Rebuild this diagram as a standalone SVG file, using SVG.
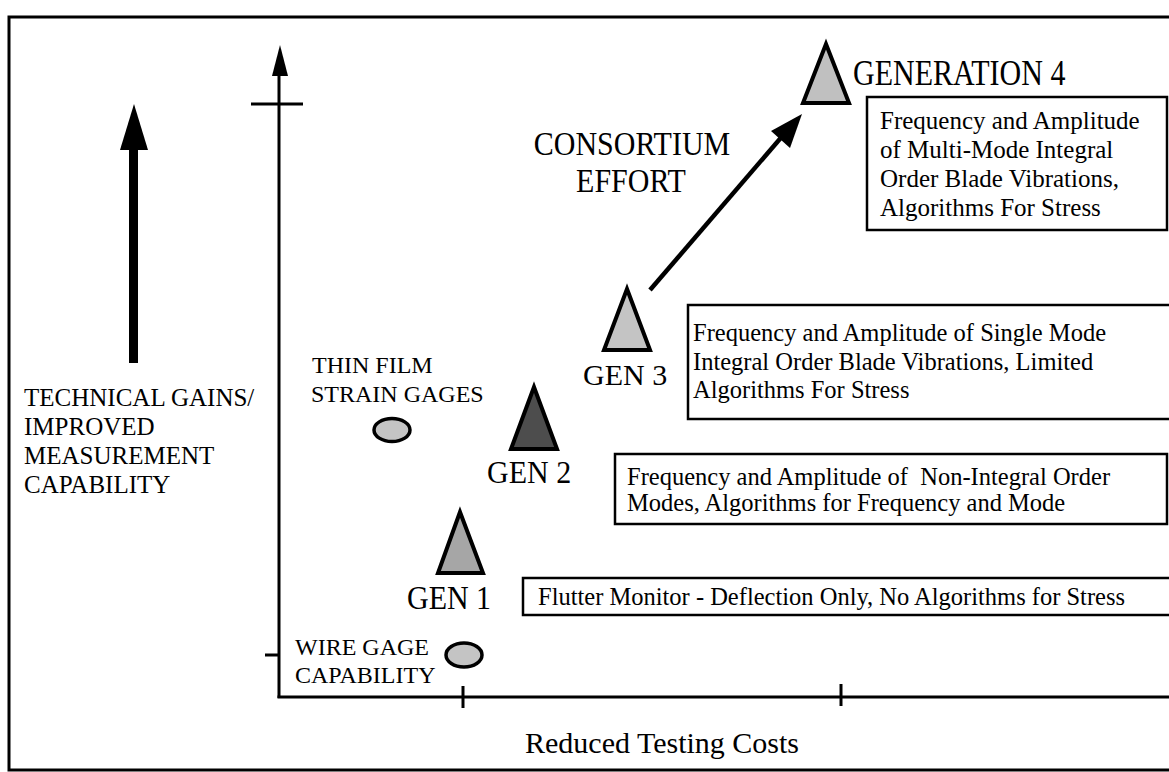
<svg xmlns="http://www.w3.org/2000/svg" width="1169" height="772" viewBox="0 0 1169 772">
<style>
text{font-family:"Liberation Serif","Times New Roman",serif;fill:#000}
.big{font-size:30px}
.mid{font-size:25px}
.box{font-size:24.5px}
.lbl{font-size:24px}
.frame{fill:none;stroke:#000;stroke-width:3}
.bx{fill:#fff;stroke:#000;stroke-width:2.5}
.ax{stroke:#000;stroke-width:3;fill:none}
.tri{stroke:#000;stroke-width:4;stroke-linejoin:miter}
.ell{stroke:#000;stroke-width:3.5;fill:#c4c4c4}
</style>
<rect x="0" y="0" width="1169" height="772" fill="#fff"/>
<rect class="frame" x="9" y="17" width="1175" height="753"/>

<g id="gains-arrow">
<rect x="129" y="148" width="9" height="215" fill="#000"/>
<polygon points="134,104 120,150 148,150" fill="#000"/>
<text class="mid" x="24" y="406">TECHNICAL GAINS/</text>
<text class="mid" x="24" y="435">IMPROVED</text>
<text class="mid" x="24" y="464">MEASUREMENT</text>
<text class="mid" x="24" y="493">CAPABILITY</text>
</g>

<g id="axes">
<line class="ax" x1="279" y1="72" x2="279" y2="698"/>
<polygon points="280,45 272,76 288,76" fill="#000"/>
<line class="ax" x1="251" y1="104" x2="303" y2="104"/>
<line class="ax" x1="265" y1="655" x2="280" y2="655"/>
<line class="ax" x1="277.5" y1="697" x2="1169" y2="697"/>
<line class="ax" x1="463" y1="686" x2="463" y2="708"/>
<line class="ax" x1="841" y1="684" x2="841" y2="706"/>
<text class="big" x="525" y="753">Reduced Testing Costs</text>
</g>

<g id="connectors">
<line x1="650" y1="290" x2="785" y2="133" stroke="#000" stroke-width="4.5"/>
<polygon points="802,114 790,148 771,131" fill="#000"/>
</g>

<g id="consortium-label">
<text class="big" font-size="31" text-anchor="middle" transform="translate(632,155) scale(1,1.12)">CONSORTIUM</text>
<text class="big" font-size="31" text-anchor="middle" transform="translate(631,192) scale(1,1.12)">EFFORT</text>
</g>

<g id="wire-gage">
<ellipse class="ell" cx="464" cy="655" rx="18" ry="12"/>
<text class="lbl" x="295" y="655">WIRE GAGE</text>
<text class="lbl" x="295" y="683">CAPABILITY</text>
</g>

<g id="thin-film">
<ellipse class="ell" cx="392" cy="430" rx="18" ry="11.5"/>
<text class="lbl" x="312" y="373">THIN FILM</text>
<text class="lbl" x="311" y="402">STRAIN GAGES</text>
</g>

<g id="gen1">
<polygon class="tri" points="460,512 438,573 483,573" fill="#a6a6a6"/>
<text class="big" transform="translate(407,609) scale(1,1.1)">GEN 1</text>
<rect class="bx" x="523" y="578" width="650" height="37"/>
<text class="box" x="538" y="605">Flutter Monitor - Deflection Only, No Algorithms for Stress</text>
</g>

<g id="gen2">
<polygon class="tri" points="534,387 511,449 557,449" fill="#4d4d4d"/>
<text class="big" transform="translate(487,483) scale(1,1.05)">GEN 2</text>
<rect class="bx" x="615" y="454" width="552" height="70"/>
<text class="box" x="627" y="485" xml:space="preserve">Frequency and Amplitude of  Non-Integral Order</text>
<text class="box" x="627" y="511">Modes, Algorithms for Frequency and Mode</text>
</g>

<g id="gen3">
<polygon class="tri" points="627,289 604,350 650,350" fill="#c4c4c4"/>
<text class="big" x="583" y="385">GEN 3</text>
<rect class="bx" x="688" y="305" width="490" height="114"/>
<text class="box" x="693" y="341">Frequency and Amplitude of Single Mode</text>
<text class="box" x="693" y="370">Integral Order Blade Vibrations, Limited</text>
<text class="box" x="693" y="398">Algorithms For Stress</text>
</g>

<g id="gen4">
<polygon class="tri" points="826,44 803,103 849,103" fill="#c0c0c0"/>
<text class="big" font-size="31.5" transform="translate(853,85) scale(1,1.2)">GENERATION 4</text>
<rect class="bx" x="867" y="97" width="300" height="133"/>
<text class="mid" x="880" y="129">Frequency and Amplitude</text>
<text class="mid" x="880" y="158">of Multi-Mode Integral</text>
<text class="mid" x="880" y="187">Order Blade Vibrations,</text>
<text class="mid" x="880" y="216">Algorithms For Stress</text>
</g>
</svg>
